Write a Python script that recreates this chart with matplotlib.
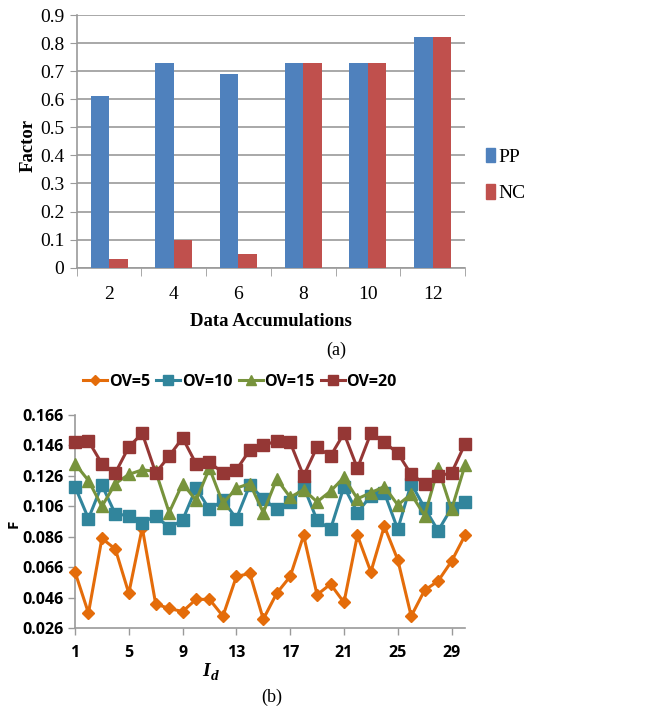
import numpy as np
import matplotlib
matplotlib.use("Agg")
import matplotlib.pyplot as plt
from matplotlib.patches import Patch

# ---- panel (a): factor vs. data accumulations ----
accumulations = ["2", "4", "6", "8", "10", "12"]
pp_values = [0.61, 0.73, 0.69, 0.73, 0.73, 0.82]
nc_values = [0.03, 0.10, 0.05, 0.73, 0.73, 0.82]

# ---- panel (b): F vs. I_d for several OV settings ----
id_values = list(range(1, 31))
ov5 = [0.063, 0.036, 0.085, 0.078, 0.049, 0.092, 0.042, 0.039, 0.037, 0.045,
       0.045, 0.034, 0.060, 0.062, 0.032, 0.049, 0.060, 0.087, 0.048, 0.055,
       0.043, 0.087, 0.063, 0.093, 0.071, 0.034, 0.051, 0.057, 0.070, 0.087]
ov10 = [0.119, 0.098, 0.120, 0.101, 0.100, 0.095, 0.100, 0.092, 0.097, 0.118,
        0.104, 0.110, 0.098, 0.120, 0.111, 0.104, 0.109, 0.119, 0.097, 0.091,
        0.119, 0.102, 0.113, 0.115, 0.091, 0.121, 0.105, 0.090, 0.105, 0.109]
ov15 = [0.134, 0.123, 0.106, 0.121, 0.127, 0.130, 0.129, 0.102, 0.121, 0.110,
        0.131, 0.108, 0.118, 0.121, 0.102, 0.124, 0.112, 0.117, 0.109, 0.116,
        0.125, 0.111, 0.115, 0.119, 0.107, 0.114, 0.100, 0.131, 0.104, 0.133]
ov20 = [0.148, 0.149, 0.134, 0.128, 0.145, 0.154, 0.128, 0.139, 0.151, 0.134,
        0.135, 0.128, 0.130, 0.143, 0.146, 0.149, 0.148, 0.126, 0.145, 0.139,
        0.154, 0.131, 0.154, 0.148, 0.141, 0.127, 0.121, 0.126, 0.128, 0.147]
f_ticks = [0.026, 0.046, 0.066, 0.086, 0.106, 0.126, 0.146, 0.166]
id_ticks = [1, 5, 9, 13, 17, 21, 25, 29]

W, H = 646, 711
fig = plt.figure(figsize=(W / 100, H / 100), dpi=100)

serif = ["Liberation Serif", "DejaVu Serif"]
sans = ["Open Sans", "Liberation Sans", "DejaVu Sans"]
grid_grey = "#9a9a9a"

# ---------------- panel (a) ----------------
ax1 = fig.add_axes([76.7 / W, 1 - 267.7 / H, (465 - 76.7) / W, (267.7 - 15) / H])
x = np.arange(len(accumulations))
bw = 0.286
ax1.bar(x - bw / 2, pp_values, bw, color="#4F81BD", zorder=3)
ax1.bar(x + bw / 2, nc_values, bw, color="#C0504D", zorder=3)
ax1.set_xlim(-0.5, len(accumulations) - 0.5)
ax1.set_ylim(0, 0.9)
ax1.set_yticks(np.arange(0, 0.91, 0.1))
ax1.set_yticklabels(["0"] + [f"{v:.1f}" for v in np.arange(0.1, 0.91, 0.1)],
                    fontfamily=serif, fontsize=14)
ax1.set_xticks(x)
ax1.set_xticklabels(accumulations, fontfamily=serif, fontsize=14)
ax1.tick_params(axis="x", length=0, pad=13)
ax1.tick_params(axis="y", length=5, color=grid_grey, pad=4)
ax1.set_xticks(np.arange(-0.5, len(accumulations), 1), minor=True)
ax1.tick_params(axis="x", which="minor", length=6, color=grid_grey)
ax1.yaxis.grid(True, color=grid_grey, linewidth=1.2, zorder=0)
for s in ["top", "right"]:
    ax1.spines[s].set_visible(False)
for s in ["left", "bottom"]:
    ax1.spines[s].set_color(grid_grey)
    ax1.spines[s].set_linewidth(1.2)
fig.text(271 / W, 1 - 322 / H, "Data Accumulations", fontfamily=serif,
         fontweight="bold", fontsize=13.5, ha="center", va="center")
fig.text(28 / W, 1 - 145 / H, "Factor", fontfamily=serif, fontweight="bold",
         fontsize=13.5, rotation=90, ha="center", va="center")
handles_a = [Patch(color="#4F81BD", label="PP"), Patch(color="#C0504D", label="NC")]
fig.legend(handles=handles_a, loc="center left", bbox_to_anchor=(468 / W, 1 - 175 / H),
           frameon=False, prop={"family": serif, "size": 14},
           handlelength=0.5, handleheight=0.8, handletextpad=0.15, labelspacing=0.95)
fig.text(336 / W, 1 - 350 / H, "(a)", fontfamily=serif, fontsize=13,
         ha="center", va="center")

# ---------------- panel (b) ----------------
ax2 = fig.add_axes([75 / W, 1 - 628.3 / H, (465 - 75) / W, (628.3 - 415) / H])
series = [
    ("OV=5", ov5, "#E46C0A", "D", 6),
    ("OV=10", ov10, "#31859C", "s", 8),
    ("OV=15", ov15, "#77933C", "^", 8),
    ("OV=20", ov20, "#953735", "s", 8),
]
lines = []
for name, vals, col, mk, ms in series:
    ln, = ax2.plot(id_values, vals, color=col, marker=mk, markersize=ms,
                   linewidth=2.2, label=name, clip_on=False, zorder=3)
    lines.append(ln)
ax2.set_xlim(1, 30)
ax2.set_ylim(0.026, 0.166)
ax2.set_yticks(f_ticks)
ax2.set_yticklabels([f"{v:.3f}" for v in f_ticks], fontfamily=sans,
                    fontweight="bold", fontsize=11.5)
ax2.set_xticks(id_ticks)
ax2.set_xticklabels([str(v) for v in id_ticks], fontfamily=sans,
                    fontweight="bold", fontsize=11.5)
ax2.tick_params(axis="both", length=5, color=grid_grey, width=1)
ax2.tick_params(axis="x", pad=7)
ax2.tick_params(axis="y", pad=3)
for s in ["top", "right"]:
    ax2.spines[s].set_visible(False)
for s in ["left", "bottom"]:
    ax2.spines[s].set_color(grid_grey)
    ax2.spines[s].set_linewidth(1.2)
fig.text(14 / W, 1 - 524 / H, "F", fontfamily=sans, fontweight="bold",
         fontsize=11, rotation=90, ha="center", va="center")
fig.text(210 / W, 1 - 671 / H, "I", fontfamily=serif, fontweight="bold",
         fontstyle="italic", fontsize=14, ha="right", va="center")
fig.text(211 / W, 1 - 676 / H, "d", fontfamily=serif, fontweight="bold",
         fontstyle="italic", fontsize=11, ha="left", va="center")
fig.legend(handles=lines, loc="center", bbox_to_anchor=(240 / W, 1 - 382 / H),
           ncol=4, frameon=False,
           prop={"family": sans, "weight": "bold", "size": 11.5},
           handlelength=1.5, handletextpad=0.1, columnspacing=0.4,
           markerscale=0.9)
fig.text(272 / W, 1 - 697 / H, "(b)", fontfamily=serif, fontsize=13,
         ha="center", va="center")

fig.savefig("out.png", dpi=100)
